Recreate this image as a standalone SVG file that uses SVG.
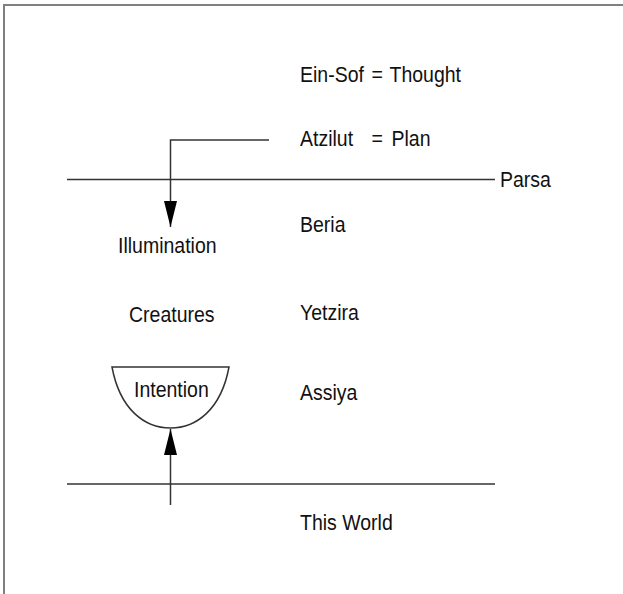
<svg xmlns="http://www.w3.org/2000/svg" width="623" height="594" viewBox="0 0 623 594">
<style>
text{font-family:"Liberation Sans",Arial,sans-serif;font-size:19.5px;fill:#111}
.ln{stroke:#333;stroke-width:1.5;fill:none}
.border{stroke:#808080;stroke-width:2;fill:none}
</style>
<defs>
<marker id="ah" markerWidth="26" markerHeight="13" refX="26" refY="6.5" orient="auto" markerUnits="userSpaceOnUse" viewBox="0 0 26 13">
<path d="M0,0 L26,6.5 L0,13 Z" fill="#000"/>
</marker>
</defs>
<rect width="623" height="594" fill="#fff"/>
<path class="border" d="M4,594 V5 H623"/>
<g id="levels">
<text transform="translate(300,81.5) scale(1,1.1)">Ein-Sof</text>
<text transform="translate(371.5,81.5) scale(1,1.1)">=</text>
<text transform="translate(389.5,81.5) scale(1,1.1)">Thought</text>
<text transform="translate(300,145.5) scale(1,1.1)">Atzilut</text>
<text transform="translate(371.5,145.5) scale(1,1.1)">=</text>
<text transform="translate(391.5,145.5) scale(1,1.1)">Plan</text>
<text transform="translate(500,186.5) scale(1,1.1)">Parsa</text>
<text transform="translate(300,231.5) scale(1,1.1)">Beria</text>
<text transform="translate(300,320) scale(1,1.1)">Yetzira</text>
<text transform="translate(300,399.5) scale(1,1.1)">Assiya</text>
<text transform="translate(300,530) scale(1,1.1)">This World</text>
</g>
<g id="illumination"><text transform="translate(118,253) scale(1,1.1)">Illumination</text></g>
<g id="creatures"><text transform="translate(129,321.5) scale(1,1.1)">Creatures</text></g>
<g id="intention">
<path class="ln" d="M112,367 H229 C221,410 196,428 170.5,428 C145,428 120,410 112,367 Z" fill="#fff"/>
<text transform="translate(134,396.5) scale(1,1.1)">Intention</text>
</g>
<g id="connectors">
<line class="ln" x1="67" y1="179.5" x2="495" y2="179.5"/>
<line class="ln" x1="67" y1="484" x2="495" y2="484"/>
<path class="ln" d="M269,140 H170.5 V227" marker-end="url(#ah)"/>
<path class="ln" d="M170.5,505 V429" marker-end="url(#ah)"/>
</g>
</svg>
